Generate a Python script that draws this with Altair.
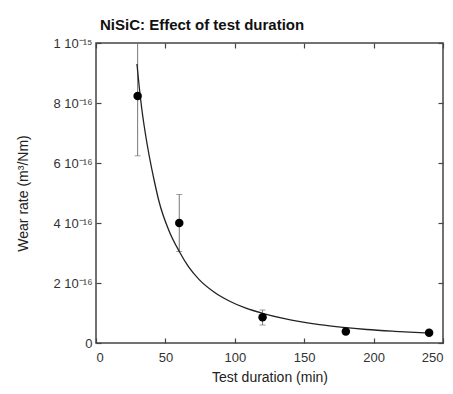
import altair as alt
import pandas as pd

# measured points
duration = [30, 60, 120, 180, 240]
wear = [8.23e-16, 4.0e-16, 0.86e-16, 0.38e-16, 0.34e-16]

# error bars (low / high ends)
err_x = [30, 60, 120]
err_lo = [6.24e-16, 3.05e-16, 0.6e-16]
err_hi = [10.22e-16, 4.95e-16, 1.1e-16]

# fitted curve
fit_x = [29.5, 31, 33, 35.5, 38.5, 42, 45.5, 52.5, 60, 67, 74, 85, 96, 108, 120, 135, 147, 161, 178, 195, 215, 240]
fit_y = [9.3e-16, 8.6e-16, 7.8e-16, 7.0e-16, 6.2e-16, 5.4e-16, 4.7e-16, 3.75e-16, 3.05e-16, 2.52e-16,
         2.13e-16, 1.7e-16, 1.4e-16, 1.16e-16, 0.99e-16, 0.82e-16, 0.71e-16, 0.61e-16, 0.52e-16,
         0.45e-16, 0.39e-16, 0.33e-16]

x_ticks = [0, 50, 100, 150, 200, 250]
y_ticks = [0, 2e-16, 4e-16, 6e-16, 8e-16, 1e-15]

pts = pd.DataFrame({"x": duration, "y": wear})
errs = pd.DataFrame({"x": err_x, "lo": err_lo, "hi": err_hi})
fit = pd.DataFrame({"x": fit_x, "y": fit_y})

FONT = "Liberation Sans"
xscale = alt.Scale(domain=[0, 250], nice=False)
yscale = alt.Scale(domain=[0, 1e-15], nice=False)

ylabel = ("datum.value == 0 ? '0' : (round(datum.value*1e16) == 10 ? '1 10\u207b\u00b9\u2075' : "
          "round(datum.value*1e16) + ' 10\u207b\u00b9\u2076')")

x_bottom = alt.Axis(values=x_ticks, domain=False, offset=-5, tickSize=5, labelPadding=8,
                    title="Test duration (min)", titlePadding=6, grid=False)
y_left = alt.Axis(values=y_ticks, domain=False, offset=-5, tickSize=5, labelPadding=4,
                  labelExpr=ylabel, title="Wear rate (m\u00b3/Nm)", titlePadding=22, grid=False)
x_top = alt.Axis(values=x_ticks, domain=False, offset=-5, tickSize=5, labels=False,
                 title=None, orient="top", grid=False)
y_right = alt.Axis(values=y_ticks, domain=False, offset=-5, tickSize=5, labels=False,
                   title=None, orient="right", grid=False)

points = alt.Chart(pts).mark_circle(size=72, color="black", opacity=1).encode(
    x=alt.X("x:Q", scale=xscale, axis=x_bottom),
    y=alt.Y("y:Q", scale=yscale, axis=y_left),
)

rules = alt.Chart(errs).mark_rule(color="#777", strokeWidth=1, clip=True).encode(
    x=alt.X("x:Q", scale=xscale, axis=None),
    y=alt.Y("lo:Q", scale=yscale, axis=None),
    y2="hi:Q",
)

caps_lo = alt.Chart(errs).mark_tick(color="#777", thickness=1, size=6, orient="horizontal", clip=True).encode(
    x=alt.X("x:Q", scale=xscale, axis=None),
    y=alt.Y("lo:Q", scale=yscale, axis=None),
)
caps_hi = alt.Chart(errs).mark_tick(color="#777", thickness=1, size=6, orient="horizontal", clip=True).encode(
    x=alt.X("x:Q", scale=xscale, axis=None),
    y=alt.Y("hi:Q", scale=yscale, axis=None),
)

curve = alt.Chart(fit).mark_line(color="#222", strokeWidth=1.3, interpolate="monotone", clip=True).encode(
    x=alt.X("x:Q", scale=xscale, axis=x_top),
    y=alt.Y("y:Q", scale=yscale, axis=y_right),
)

chart = alt.layer(rules, caps_lo, caps_hi, curve, points).resolve_axis(
    x="independent", y="independent"
).properties(
    width=347, height=300,
    autosize=alt.AutoSizeParams(type="none"),
    padding={"left": 88, "top": 35, "right": 2, "bottom": 43},
    title=alt.TitleParams("NiSiC: Effect of test duration", anchor="start", frame="group", dx=4, offset=4,
                          font=FONT, fontSize=15, fontWeight="bold", color="#111"),
).configure_view(stroke="#444", strokeWidth=1.5).configure_axis(
    labelFont=FONT, titleFont=FONT, labelFontSize=13, titleFontSize=14,
    labelColor="#333", titleColor="#222", titleFontWeight="normal",
    tickColor="#444", tickWidth=1.2,
)

chart.save("out.html", embed_options={"renderer": "svg", "actions": False})
